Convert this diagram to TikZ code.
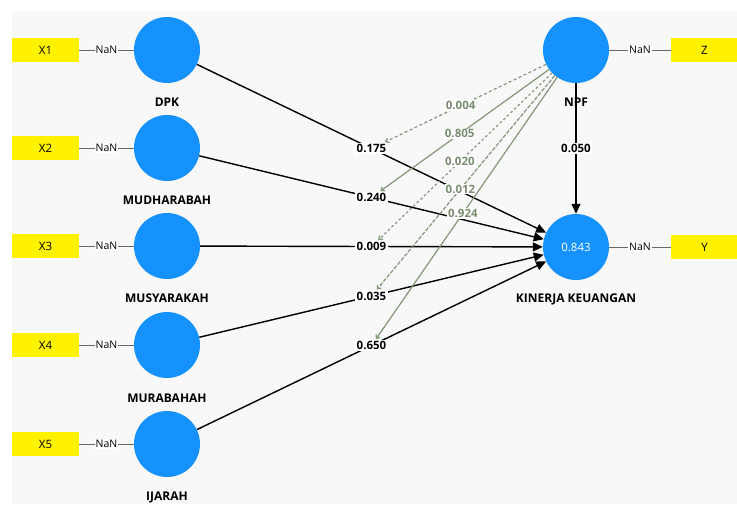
\documentclass[tikz,border=0pt]{standalone}
\usepackage{fontspec}
\setmainfont{Open Sans}
\usetikzlibrary{arrows.meta}
\definecolor{bgcol}{RGB}{248,248,248}
\definecolor{lvblue}{RGB}{22,146,255}
\definecolor{modgray}{RGB}{130,150,122}
\definecolor{modtext}{RGB}{120,140,112}
\definecolor{linkgray}{RGB}{105,105,105}
\begin{document}
\begin{tikzpicture}[x=1pt,y=-1pt,
 latent/.style={circle,fill=lvblue,minimum size=66pt,inner sep=0pt,text=white,font=\fontsize{11.5}{13}\selectfont},
 indicator/.style={rectangle,fill=yellow,minimum width=67pt,minimum height=24pt,inner sep=0pt,font=\fontsize{11.5}{13}\selectfont},
 lvname/.style={inner sep=0pt,font=\bfseries\fontsize{12}{14}\selectfont},
 nanlbl/.style={fill=white,inner sep=1pt,font=\fontsize{10.5}{12}\selectfont},
 linkline/.style={draw=linkgray,line width=0.9pt},
 mainarrow/.style={draw=black,line width=1.4pt,-{Triangle[length=10pt,width=9pt]}},
 pathlbl/.style={fill=white,inner sep=1.5pt,font=\bfseries\fontsize{11.5}{13}\selectfont},
 modline/.style={draw=modgray,line width=1.2pt,-{Straight Barb[length=3pt,width=5pt]}},
 modlbl/.style={fill=white,inner sep=1pt,text=modtext,font=\bfseries\fontsize{11.5}{13}\selectfont},
]
\useasboundingbox (0,0) rectangle (737,504);
\fill[bgcol] (12,11) rectangle (737,504);

% latent variables
\node[latent] (dpk) at (167,50) {};
\node[latent] (mud) at (167,148) {};
\node[latent] (mus) at (167,246) {};
\node[latent] (mur) at (167,345) {};
\node[latent] (ija) at (167,444) {};
\node[latent] (npf) at (576,50) {};
\node[latent] (kin) at (576,247) {0.843};

\node[lvname] (dpkn) at (167,102) {DPK};
\node[lvname] (mudn) at (167,200) {MUDHARABAH};
\node[lvname] (musn) at (167,298) {MUSYARAKAH};
\node[lvname] (murn) at (167,398) {MURABAHAH};
\node[lvname] (ijan) at (167,497) {IJARAH};
\node[lvname] (npfn) at (576,102) {NPF};
\node[lvname] (kinn) at (576,299) {KINERJA KEUANGAN};

% indicators
\node[indicator] (x1) at (45.5,50) {X1};
\node[indicator] (x2) at (45.5,148) {X2};
\node[indicator] (x3) at (45.5,246) {X3};
\node[indicator] (x4) at (45.5,345) {X4};
\node[indicator] (x5) at (45.5,444) {X5};
\node[indicator] (z) at (704.5,50) {Z};
\node[indicator] (y) at (704.5,247) {Y};

\draw[linkline] (x1) -- node[nanlbl]{NaN} (dpk);
\draw[linkline] (x2) -- node[nanlbl]{NaN} (mud);
\draw[linkline] (x3) -- node[nanlbl]{NaN} (mus);
\draw[linkline] (x4) -- node[nanlbl]{NaN} (mur);
\draw[linkline] (x5) -- node[nanlbl]{NaN} (ija);
\draw[linkline] (npf) -- node[nanlbl]{NaN} (z);
\draw[linkline] (kin) -- node[nanlbl]{NaN} (y);

% structural paths
\draw[mainarrow] (dpk) -- node[pathlbl] (p1) {0.175} (kin);
\draw[mainarrow] (mud) -- node[pathlbl] (p2) {0.240} (kin);
\draw[mainarrow] (mus) -- node[pathlbl] (p3) {0.009} (kin);
\draw[mainarrow] (mur) -- node[pathlbl] (p4) {0.035} (kin);
\draw[mainarrow] (ija) -- node[pathlbl] (p5) {0.650} (kin);
\draw[mainarrow] (npf) -- node[pathlbl] (p6) {0.050} (kin);

% moderating effects
\draw[modline, dash pattern=on 3pt off 2.5pt] (npf) -- node[modlbl,pos=0.53] (m1) {0.004} (p1);
\draw[modline] (npf) -- node[modlbl,pos=0.53] (m2) {0.805} (p2);
\draw[modline, dash pattern=on 2.5pt off 2.5pt] (npf) -- node[modlbl,pos=0.53] (m3) {0.020} (p3);
\draw[modline, dash pattern=on 4pt off 1.5pt] (npf) -- node[modlbl,pos=0.53] (m4) {0.012} (p4);
\draw[modline] (npf) -- node[modlbl,pos=0.52] (m5) {0.924} (p5);
\end{tikzpicture}
\end{document}
